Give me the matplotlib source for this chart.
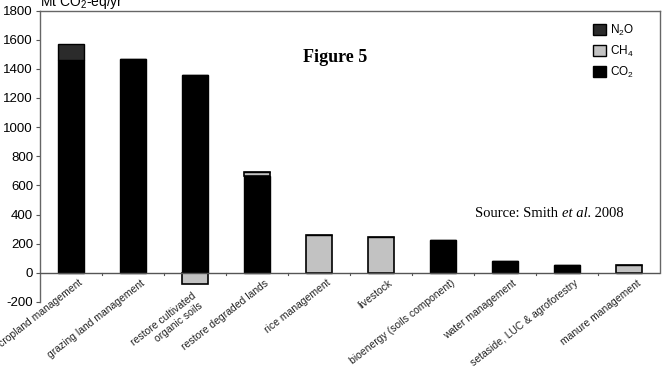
import matplotlib
matplotlib.use("Agg")
import matplotlib.pyplot as plt
import numpy as np
from matplotlib.patches import Patch

categories = ["cropland management", "grazing land management",
              "restore cultivated\norganic soils", "restore degraded lands",
              "rice management", "livestock", "bioenergy (soils component)",
              "water management", "setaside, LUC & agroforestry",
              "manure management"]
co2 = [1460, 1470, 1355, 662, 0, 0, 222, 82, 52, 0]
ch4 = [0, 0, -75, 33, 258, 247, 0, 0, 0, 52]
n2o = [110, 0, 0, 0, 0, 0, 0, 0, 0, 0]
yticks = [-200, 0, 200, 400, 600, 800, 1000, 1200, 1400, 1600, 1800]

plt.rcParams['font.family'] = ['Liberation Sans', 'DejaVu Sans']
plt.rcParams['mathtext.fontset'] = 'custom'
plt.rcParams['mathtext.rm'] = 'Liberation Sans'
plt.rcParams['mathtext.it'] = 'Liberation Sans:italic'

W, H = 665, 371
fig = plt.figure(figsize=(W/100, H/100), dpi=100)
ax = fig.add_axes([40/W, (H-302)/H, 620/W, (302-10.5)/H])

x = np.arange(len(categories))
co2a = np.array(co2, float); ch4a = np.array(ch4, float); n2oa = np.array(n2o, float)
ch4_bottom = np.where(ch4a > 0, co2a, 0)
n2o_bottom = co2a + np.clip(ch4a, 0, None)
w = 0.41
c_co2, c_ch4, c_n2o = "#000000", "#c2c2c2", "#2b2b2b"
ax.bar(x, co2a, w, color=c_co2, edgecolor="black", linewidth=1, zorder=3)
ax.bar(x, ch4a, w, bottom=ch4_bottom, color=c_ch4, edgecolor="black", linewidth=1.2, zorder=3)
ax.bar(x, n2oa, w, bottom=n2o_bottom, color=c_n2o, edgecolor="black", linewidth=1, zorder=3)

ax.set_xlim(-0.5, len(categories) - 0.5)
ax.set_ylim(-200, 1800)
ax.set_yticks(yticks)
ax.set_yticklabels([str(v) for v in yticks], fontsize=9.5)
ax.tick_params(axis='y', length=3, width=0.8, pad=2, color="#555555")

for s in ['top', 'right', 'left']:
    ax.spines[s].set_color("#666666")
    ax.spines[s].set_linewidth(1.0)
ax.spines['right'].set_bounds(0, 1800)
ax.spines['bottom'].set_visible(False)
ax.axhline(0, color="#555555", linewidth=1.0, zorder=4)
for b in np.arange(0.5, len(categories) - 0.5, 1.0):
    ax.plot([b, b], [0, -12], color="#555555", linewidth=0.8, clip_on=False, zorder=4)

ax.set_xticks([])
for xi, lab in zip(x, categories):
    if "\n" in lab:
        ax_x, ax_y = xi - 0.06, -125
    else:
        ax_x, ax_y = xi + 0.12, -35
    ax.text(ax_x, ax_y, lab, rotation=38, ha='right', va='top',
            rotation_mode='anchor', fontsize=7.5, multialignment='right', color="#222222")

fig.text(40/W, 1 - 2/H, "Mt CO$_2$-eq/yr", fontsize=10, va='center', ha='left')

fig.text(335/W, 1 - 57/H, "Figure 5", fontsize=13, fontweight='bold',
         family=['Liberation Serif'], ha='center', va='center')

# Source line with italic "et al."
fig.canvas.draw()
renderer = fig.canvas.get_renderer()
sx = 475
sy = 1 - 214/H
parts = [("Source: Smith ", 'normal'), ("et al.", 'italic'), (" 2008", 'normal')]
for txt, style in parts:
    t = fig.text(sx/W, sy, txt, fontsize=10.5, family=['Liberation Serif'], style=style,
                 ha='left', va='center')
    bb = t.get_window_extent(renderer=renderer)
    sx += bb.width

handles = [Patch(facecolor=c_n2o, edgecolor='black', label="N$_2$O"),
           Patch(facecolor=c_ch4, edgecolor='black', label="CH$_4$"),
           Patch(facecolor=c_co2, edgecolor='black', label="CO$_2$")]
fig.legend(handles=handles, loc='upper left', bbox_to_anchor=(588/W, 1 - 18/H),
           frameon=False, fontsize=8.5, handlelength=1.1, handleheight=1.1,
           handletextpad=0.4, labelspacing=0.5, borderaxespad=0)

fig.savefig("out.png", dpi=100)
